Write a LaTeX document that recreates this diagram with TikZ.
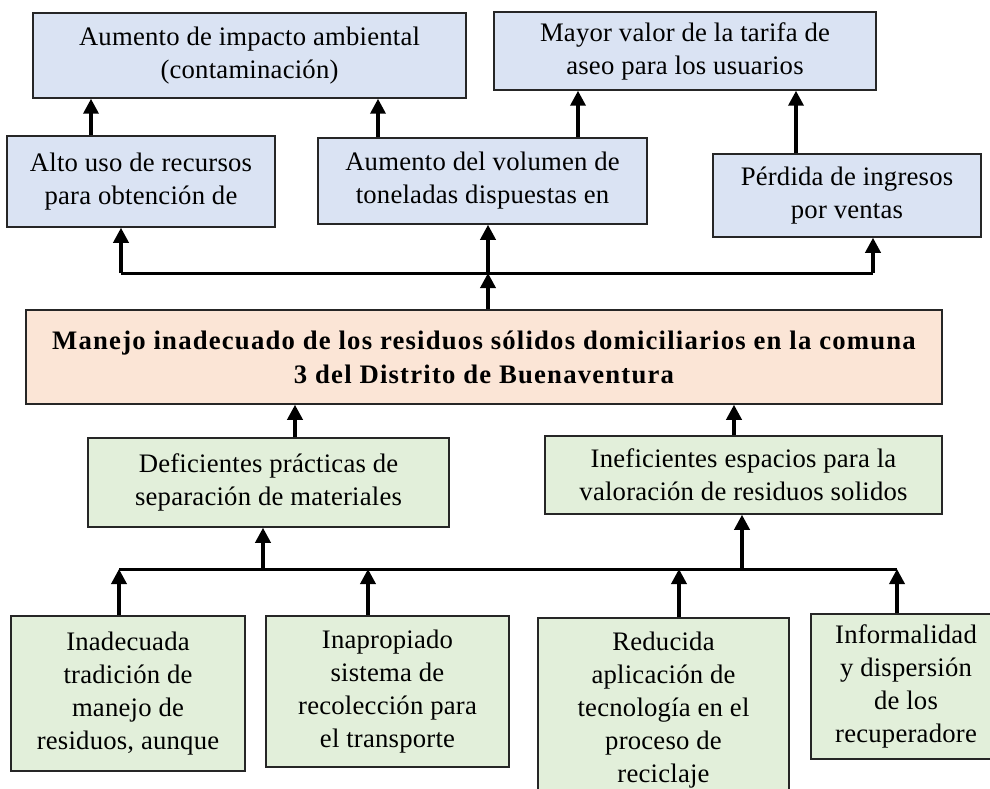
\documentclass[tikz,border=0pt]{standalone}
\usepackage{fontspec}
\setmainfont{Liberation Serif}
\usetikzlibrary{arrows.meta, positioning}

\definecolor{effectblue}{HTML}{DAE3F3}
\definecolor{causegreen}{HTML}{E2EFDA}
\definecolor{problempink}{HTML}{FBE5D6}

\begin{document}
\begin{tikzpicture}[x=1pt, y=-1pt, >={Triangle[width=15pt, length=15pt]},
		box/.style={rectangle, draw=black!85, line width=1.5pt, align=center, inner sep=0pt, font=\fontsize{26.7}{33}\selectfont\addfontfeatures{LetterSpace=0.8}},
		effect/.style={box, fill=effectblue},
		cause/.style={box, fill=causegreen},
		problem/.style={box, fill=problempink, font=\fontsize{26.7}{34}\selectfont\bfseries\addfontfeatures{LetterSpace=4.5}},
		link/.style={->, line width=3.5pt},
		busline/.style={line width=3pt}]
			\useasboundingbox (0, 0) rectangle (990, 789);
			\clip (0, 0) rectangle (990, 789);

			\node (T1)[effect, minimum width=433pt, minimum height=85pt] at (249.5, 55.5) {Aumento de impacto ambiental\\(contaminación)};
			\node (T2)[effect, minimum width=382pt, minimum height=78pt] at (685, 51) {Mayor valor de la tarifa de\\aseo para los usuarios};

			\node (M1)[effect, minimum width=268pt, minimum height=91pt] at (141, 181.5) {Alto uso de recursos\\para obtención de};
			\node (M2)[effect, minimum width=329pt, minimum height=86pt] at (482.5, 181) {Aumento del volumen de\\toneladas dispuestas en};
			\node (M3)[effect, minimum width=268pt, minimum height=83pt] at (847, 195.5) {Pérdida de ingresos\\por ventas};

			\node (main)[problem, minimum width=916pt, minimum height=94pt] at (484, 357) {Manejo inadecuado de los residuos sólidos domiciliarios en la comuna\\3 del Distrito de Buenaventura};

			\node (D1)[cause, minimum width=361pt, minimum height=89pt] at (268.5, 482.5) {Deficientes prácticas de\\separación de materiales};
			\node (D2)[cause, minimum width=397pt, minimum height=78pt] at (743.5, 475) {Ineficientes espacios para la\\valoración de residuos solidos};

			\node (B1)[cause, minimum width=234pt, minimum height=155pt] at (128, 693.5) {Inadecuada\\tradición de\\manejo de\\residuos, aunque};
			\node (B2)[cause, minimum width=243pt, minimum height=151pt] at (387.5, 691.5) {Inapropiado\\sistema de\\recolección para\\el transporte};
			\node (B3)[cause, minimum width=251pt, minimum height=184pt] at (663.5, 710) {Reducida\\aplicación de\\tecnología en el\\proceso de\\reciclaje};
			\node (B4)[cause, minimum width=190pt, minimum height=145pt] at (906, 686.5) {Informalidad\\y dispersión\\de los\\recuperadore};

			\coordinate (u1) at (121, 273);
			\coordinate (u2) at (488, 273);
			\coordinate (u3) at (873, 273);

			\coordinate (l1) at (119, 569);
			\coordinate (l2) at (263, 569);
			\coordinate (l3) at (368, 569);
			\coordinate (l4) at (679, 569);
			\coordinate (l5) at (742, 569);
			\coordinate (l6) at (897, 569);

			\draw[link] ([xshift=-50pt]M1.north) -- ([xshift=-50pt]M1.north |- T1.south);
			\draw[link] ([xshift=-104.5pt]M2.north) -- ([xshift=-104.5pt]M2.north |- T1.south);
			\draw[link] ([xshift=95.5pt]M2.north) -- ([xshift=95.5pt]M2.north |- T2.south);
			\draw[link] ([xshift=-51pt]M3.north) -- ([xshift=-51pt]M3.north |- T2.south);

			\draw[busline] (u1) -- (u3);
			\draw[link] (u1) -- (u1 |- M1.south);
			\draw[link] (u2) -- (u2 |- M2.south);
			\draw[link] (u3) -- (u3 |- M3.south);
			\draw[link] (main.north -| u2) -- (u2);

			\draw[link] ([xshift=26.5pt]D1.north) -- ([xshift=26.5pt]D1.north |- main.south);
			\draw[link] ([xshift=-9.5pt]D2.north) -- ([xshift=-9.5pt]D2.north |- main.south);

			\draw[busline] (l1) -- (l6);
			\draw[link] (l2) -- (l2 |- D1.south);
			\draw[link] (l5) -- (l5 |- D2.south);
			\draw[link] (B1.north -| l1) -- (l1);
			\draw[link] (B2.north -| l3) -- (l3);
			\draw[link] (B3.north -| l4) -- (l4);
			\draw[link] (B4.north -| l6) -- (l6);
		\end{tikzpicture}
\end{document}
